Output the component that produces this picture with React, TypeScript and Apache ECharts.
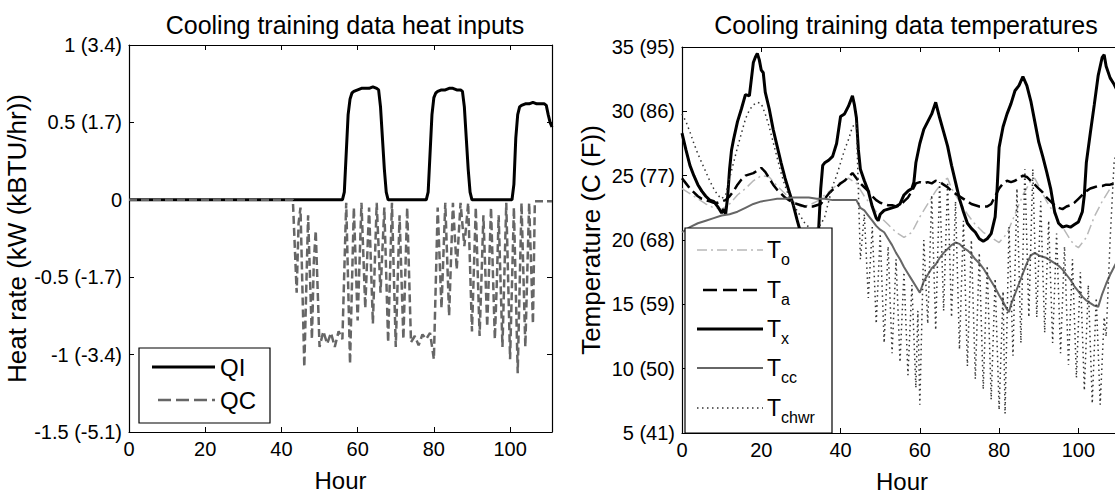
import React, { useEffect, useRef } from "react";
import * as echarts from "echarts";

const FONT = "'Liberation Sans', Arial, Helvetica, sans-serif";

// ---------- axes / ticks ----------
const HOUR_MAX = 111;
const X_TICKS = [0, 20, 40, 60, 80, 100];
const LEFT_Y_TICKS = [-1.5, -1, -0.5, 0, 0.5, 1];
const LEFT_Y_LABELS = ["-1.5 (-5.1)", "-1 (-3.4)", "-0.5 (-1.7)", "0", "0.5 (1.7)", "1 (3.4)"];
const RIGHT_Y_TICKS = [5, 10, 15, 20, 25, 30, 35];
const RIGHT_Y_LABELS = ["5 (41)", "10 (50)", "15 (59)", "20 (68)", "25 (77)", "30 (86)", "35 (95)"];

const LEFT_TITLE = "Cooling training data heat inputs";
const RIGHT_TITLE = "Cooling training data temperatures";
const LEFT_YNAME = "Heat rate (kW (kBTU/hr))";
const RIGHT_YNAME = "Temperature (C (F))";
const XNAME = "Hour";

// ---------- left panel data: [hour, kW] ----------
const QI: [number, number][] = [
  [0, 0], [56, 0], [56.5, 0.05], [57, 0.3], [57.5, 0.55], [58, 0.65], [58.5, 0.69], [59, 0.7], [60, 0.71],
  [61, 0.72], [62, 0.72], [63, 0.72], [64, 0.73], [65, 0.72], [65.5, 0.71], [66, 0.6], [66.5, 0.4], [67, 0.2],
  [67.5, 0.05], [68, 0], [78, 0], [78.5, 0.05], [79, 0.3], [79.5, 0.55], [80, 0.66], [80.5, 0.69], [81, 0.7],
  [82, 0.71], [83, 0.71], [84, 0.72], [85, 0.72], [86, 0.71], [87, 0.71], [87.5, 0.7], [88, 0.6], [88.5, 0.4],
  [89, 0.2], [89.5, 0.05], [90, 0], [100.5, 0], [101, 0.1], [101.5, 0.4], [102, 0.55], [102.5, 0.6], [103, 0.61],
  [104, 0.62], [105, 0.62], [106, 0.63], [107, 0.62], [108, 0.62], [109, 0.62], [109.5, 0.61], [110, 0.55],
  [110.5, 0.5], [111, 0.47],
];

const QC: [number, number][] = [
  [0, 0], [43, 0], [43.5, -0.3], [44, -0.6], [44.5, -0.15], [45, -0.05], [46, -1.08], [47, -0.1], [48, -0.9],
  [48.5, -0.4], [49, -0.2], [50, -0.95], [51, -0.85], [52, -0.93], [53, -0.86], [54, -0.95], [55, -0.85],
  [56, -0.9], [57, -0.02], [58, -1.06], [59, -0.05], [60, -0.78], [61, -0.02], [62, -0.7], [63, -0.05],
  [64, -0.8], [65, -0.02], [66, -0.6], [67, -0.05], [68, -0.92], [69, -0.02], [70, -0.95], [71, -0.1],
  [72, -0.9], [73, -0.05], [74, -0.92], [75, -0.88], [76, -0.94], [77, -0.87], [78, -0.9], [79, -0.86],
  [80, -1.03], [81, -0.05], [82, -0.7], [83, -0.02], [84, -0.75], [85, -0.02], [86, -0.45], [87, -0.02],
  [88, -0.3], [89, -0.02], [90, -0.85], [91, -0.05], [92, -0.88], [92.5, -0.5], [93, -0.1], [94, -0.82],
  [95, -0.05], [96, -0.9], [96.5, -0.55], [97, -0.1], [98, -0.95], [99, -0.02], [100, -1.03], [101, -0.05],
  [102, -1.12], [103, -0.02], [104, -0.95], [105, -0.02], [106, -0.8], [106.5, -0.01], [111, -0.01],
];

// ---------- right panel data: [hour, degC] ----------
const T_O: [number, number][] = [
  [0, 24], [2, 23.6], [4, 23.2], [6, 22.8], [8, 22.5], [10, 22.4], [12, 22.8], [14, 23.5], [16, 24], [18, 24.6],
  [20, 25], [22, 24.9], [24, 24.2], [26, 23.6], [28, 23], [30, 22.6], [32, 22.7], [34, 23], [36, 23.5], [38, 24],
  [40, 24.5], [42, 24.8], [44, 24.4], [46, 23.4], [48, 22.6], [50, 21.8], [52, 21.2], [54, 20.6], [56, 20.2],
  [58, 20.6], [60, 21.8], [62, 22.8], [64, 23.8], [66, 24.6], [67, 24.8], [68, 24], [70, 23], [72, 22], [74, 21.2],
  [76, 20.6], [78, 20.2], [80, 19.8], [82, 20.5], [84, 22], [86, 23.5], [88, 24.6], [89, 24.8], [90, 24.2],
  [92, 23], [94, 22], [96, 21], [98, 20], [99, 19.6], [100, 19.4], [102, 20.2], [104, 21.8], [106, 23], [108, 24],
  [110, 24.8], [111, 25],
];

const T_A: [number, number][] = [
  [0, 24.8], [1, 24.4], [2, 24], [3, 23.7], [4, 23.4], [5, 23.2], [6, 23.1], [7, 23], [8, 22.9], [9, 22.9],
  [10, 23], [11, 23.1], [12, 23.4], [13, 23.8], [14, 24.3], [15, 24.7], [16, 25], [17, 25.1], [18, 25.2],
  [19, 25.4], [20, 25.6], [21, 25.3], [22, 24.8], [23, 24.3], [24, 23.9], [25, 23.6], [26, 23.3], [27, 23.1],
  [28, 22.9], [29, 22.8], [30, 22.7], [31, 22.6], [32, 22.6], [33, 22.6], [34, 22.7], [35, 22.8], [36, 23.2],
  [37, 23.6], [38, 23.9], [39, 24.1], [40, 24.4], [41, 24.6], [42, 24.9], [43, 25.2], [44, 24.8], [45, 24.4],
  [46, 24.1], [47, 23.8], [48, 23.4], [49, 23.1], [50, 22.9], [51, 22.8], [52, 22.7], [53, 22.7], [54, 22.6],
  [55, 22.7], [56, 23], [57, 23.3], [58, 23.8], [59, 24.4], [60, 24.5], [61, 24.4], [62, 24.5], [63, 24.4],
  [64, 24.6], [65, 24.5], [66, 24.3], [67, 24.1], [68, 23.8], [69, 23.6], [70, 23.4], [71, 23.2], [72, 23],
  [73, 22.8], [74, 22.7], [75, 22.6], [76, 22.6], [77, 22.6], [78, 22.8], [79, 23.4], [80, 24], [81, 24.4],
  [82, 24.6], [83, 24.5], [84, 24.6], [85, 24.8], [86, 25], [87, 24.9], [88, 24.6], [89, 24.3], [90, 24],
  [91, 23.7], [92, 23.3], [93, 23], [94, 22.7], [95, 22.5], [96, 22.4], [97, 22.6], [98, 22.7], [99, 22.9],
  [100, 23.2], [101, 23.5], [102, 23.8], [103, 24], [104, 24.1], [105, 24.2], [106, 24.2], [107, 24.3],
  [108, 24.3], [109, 24.4], [110, 24.4], [111, 24.5],
];

const T_X: [number, number][] = [
  [0, 28.3], [1, 27], [2, 25.8], [3, 25], [4, 24.3], [5, 23.8], [6, 23.4], [7, 23.1], [8, 23], [9, 22.6],
  [10, 22.1], [10.5, 22.4], [11, 22], [11.5, 23.3], [12, 25.5], [12.5, 27], [13, 27.8], [14, 29.2], [15, 30.2],
  [16, 31.3], [17, 31.2], [17.5, 32.5], [18, 33.8], [18.5, 34.2], [19, 34.5], [19.5, 34], [20, 33.2], [20.5, 33],
  [21, 31.5], [22, 30.2], [23, 28.6], [24, 27.3], [25, 26], [26, 24.8], [27, 23.8], [28, 22.8], [29, 21.6],
  [30, 20.5], [31, 19.5], [32, 18.8], [33, 18.6], [34, 19.8], [34.5, 21], [35, 24], [35.5, 25.8], [36, 26],
  [37, 26.2], [38, 26.5], [39, 27.5], [40, 29.6], [41, 29.8], [42, 30.4], [43, 31.2], [43.5, 30.5], [44, 29.5],
  [44.5, 27], [45, 25.5], [46, 24.6], [47, 23.8], [48, 22.6], [49, 21.7], [49.5, 21.5], [50, 22], [51, 22.3],
  [52, 22.4], [53, 22.5], [54, 22.6], [55, 22.8], [56, 23.5], [57, 23.8], [58, 24], [58.5, 24.5], [59, 26],
  [60, 27.5], [61, 28.6], [62, 29.2], [63, 29.8], [64, 30.7], [65, 29.5], [66, 28.4], [67, 27.3], [68, 25.8],
  [69, 24.5], [70, 23.2], [71, 22.2], [72, 21.3], [73, 20.9], [74, 20.6], [75, 20.1], [76, 19.9], [77, 20.1],
  [78, 20.5], [79, 21.8], [79.5, 24], [80, 27.2], [81, 28.8], [82, 29.8], [83, 30.6], [84, 31.6], [85, 32],
  [86, 32.7], [87, 32], [88, 30.8], [89, 29.2], [90, 27.6], [91, 26.5], [92, 25.3], [93, 24], [94, 22.2],
  [95, 21.3], [96, 21], [97, 21.1], [98, 21], [99, 21.2], [100, 21.4], [101, 22.2], [101.5, 23.5], [102, 26],
  [103, 28.3], [104, 30.5], [105, 32.8], [106, 34.2], [106.5, 34.4], [107, 33.5], [108, 32.6], [109, 32.1],
  [110, 31.5], [111, 31],
];

const T_CC: [number, number][] = [
  [0, 20.6], [2, 21], [4, 21.3], [6, 21.5], [8, 21.7], [10, 21.9], [12, 22], [14, 22.2], [16, 22.5], [18, 22.8],
  [20, 23], [22, 23.1], [24, 23.2], [26, 23.2], [28, 23.3], [30, 23.3], [32, 23.3], [34, 23.2], [36, 23.2],
  [38, 23.1], [40, 23.1], [42, 23.1], [44, 23.1], [44.5, 22.8], [45, 22.5], [46, 22.3], [47, 21.9], [48, 21.5],
  [49, 21.1], [50, 20.8], [51, 20.6], [52, 20.1], [53, 19.6], [54, 19], [55, 18.5], [56, 17.9], [57, 17.4],
  [58, 16.9], [59, 16.4], [60, 15.9], [61, 16.8], [62, 17.3], [63, 17.8], [64, 18.1], [65, 18.6], [66, 19],
  [67, 19.3], [68, 19.6], [69, 19.8], [70, 19.7], [71, 19.4], [72, 19.2], [73, 18.9], [74, 18.5], [75, 18.2],
  [76, 17.8], [77, 17.3], [78, 16.8], [79, 16.3], [80, 15.7], [81, 15.2], [82, 14.6], [82.5, 14.4], [83, 15],
  [84, 15.8], [85, 16.6], [86, 17.4], [87, 18.2], [88, 18.8], [89, 19], [90, 18.8], [91, 18.7], [92, 18.6],
  [93, 18.4], [94, 18.2], [95, 18], [96, 17.7], [97, 17.3], [98, 16.9], [99, 16.4], [100, 16], [101, 15.6],
  [102, 15.3], [103, 15.1], [104, 14.9], [105, 14.8], [106, 15.8], [107, 16.6], [108, 17.3], [109, 17.9],
  [110, 18.5], [111, 19],
];

const T_CHWR: [number, number][] = [
  [0, 29.8], [1, 29.2], [2, 28.4], [3, 27.5], [4, 26.7], [5, 26], [6, 25.3], [7, 24.6], [8, 24], [9, 23.5],
  [10, 23.2], [11, 23.5], [12, 24.8], [13, 26], [14, 27.2], [15, 28.3], [16, 29.4], [17, 30.1], [18, 30.5],
  [19, 30.7], [20, 30.6], [21, 29.8], [22, 28.8], [23, 27.6], [24, 26.4], [25, 25.2], [26, 24.2], [27, 23.4],
  [28, 22.8], [29, 22.3], [30, 21.8], [31, 21.3], [32, 21], [33, 20.8], [34, 20.9], [35, 21.2], [36, 21.8],
  [37, 23], [38, 24.2], [39, 25], [40, 26], [41, 27], [42, 27.8], [43, 28.8], [44, 29.1],
  [45, 18.5], [46, 22], [47, 15.5], [48, 21], [49, 13.5], [50, 20.5], [51, 12], [52, 19.5], [53, 11.2],
  [54, 18.5], [55, 10.5], [56, 17.5], [57, 9.5], [58, 16.5], [59, 8.5], [59.5, 14.5], [60, 7.2], [61, 20],
  [62, 13.5], [63, 23.5], [64, 13], [65, 24.5], [66, 14.5], [67, 24.5], [68, 14], [69, 23], [70, 11.5],
  [71, 21.5], [72, 10.2], [73, 20], [74, 9.2], [75, 19], [76, 8.4], [77, 18], [78, 7.6], [79, 17], [80, 6.8],
  [81, 16], [81.5, 6.5], [82.5, 21], [83.5, 11], [84.5, 24], [85.5, 12], [86.5, 25.5], [87.5, 14], [88.5, 25.5],
  [89.5, 14], [90.5, 23], [91.5, 12.8], [92.5, 21.5], [93.5, 12], [94.5, 20.5], [95.5, 11.2], [96.5, 19.5],
  [97.5, 10.3], [98.5, 18.5], [99.5, 9.3], [100.5, 17.5], [101.5, 8.3], [102.5, 16.5], [103.5, 7.3],
  [104.5, 15.5], [105.5, 7.2], [106.5, 14], [107, 12.5], [108, 20], [109, 26], [110, 27.5], [111, 28],
];

// ---------- styles ----------
const STYLE_QI = { color: "#000000", width: 3, type: "solid" as any };
const STYLE_QC = { color: "#666666", width: 2.5, type: [8, 4] as any };
const STYLE_TO = { color: "#b8b8b8", width: 1.5, type: [10, 4, 2, 4] as any };
const STYLE_TA = { color: "#000000", width: 2.5, type: [12, 5] as any };
const STYLE_TX = { color: "#000000", width: 3, type: "solid" as any };
const STYLE_TCC = { color: "#666666", width: 2, type: "solid" as any };
const STYLE_TCHWR = { color: "#333333", width: 1.5, type: [1.5, 3.5] as any };

function labelFor(ticks: number[], labels: string[]) {
  return (v: number) => {
    const i = ticks.findIndex((t) => Math.abs(t - v) < 1e-9);
    return i >= 0 ? labels[i] : "";
  };
}

const axisLineStyle = { show: true, onZero: false, lineStyle: { color: "#000", width: 1.2 } };
const tickStyle = { show: true, inside: true, length: 5, lineStyle: { color: "#000", width: 1 } };

function xAxesFor(grid: number) {
  const common = {
    type: "value",
    gridIndex: grid,
    min: 0,
    max: HOUR_MAX,
    interval: 20,
    splitLine: { show: false },
    axisLine: axisLineStyle,
    axisTick: tickStyle,
  };
  return [
    {
      ...common,
      position: "bottom",
      name: XNAME,
      nameLocation: "middle",
      nameGap: 36,
      nameTextStyle: { fontSize: 24, color: "#000", fontFamily: FONT },
      axisLabel: {
        show: true,
        fontSize: 20,
        color: "#000",
        fontFamily: FONT,
        margin: 7,
        formatter: labelFor(X_TICKS, X_TICKS.map(String)),
      },
    },
    { ...common, position: "top", axisLabel: { show: false } },
  ];
}

function yAxesFor(grid: number, min: number, max: number, interval: number, ticks: number[], labels: string[], name: string, nameGap: number) {
  const common = {
    type: "value",
    gridIndex: grid,
    min,
    max,
    interval,
    splitLine: { show: false },
    axisLine: axisLineStyle,
    axisTick: tickStyle,
  };
  return [
    {
      ...common,
      position: "left",
      name,
      nameLocation: "middle",
      nameGap,
      nameTextStyle: { fontSize: 26, color: "#000", fontFamily: FONT },
      axisLabel: {
        show: true,
        fontSize: 20,
        color: "#000",
        fontFamily: FONT,
        margin: 7,
        formatter: labelFor(ticks, labels),
      },
    },
    { ...common, position: "right", axisLabel: { show: false } },
  ];
}

function line(name: string, data: [number, number][], style: any, xi: number, yi: number, z: number) {
  return {
    name,
    type: "line",
    xAxisIndex: xi,
    yAxisIndex: yi,
    data,
    symbol: "none",
    showSymbol: false,
    lineStyle: style,
    z,
    clip: true,
  };
}

function legendRow(x1: number, x2: number, y: number, style: any, main: string, sub: string | null, textX: number, fontSize: number) {
  const dash = Array.isArray(style.type) ? style.type : null;
  const els: any[] = [
    {
      type: "line",
      z: 101,
      shape: { x1, y1: y, x2, y2: y },
      style: { stroke: style.color, lineWidth: style.width, lineDash: dash },
    },
    {
      type: "text",
      z: 101,
      x: textX,
      y,
      style: { text: main, fontSize, fontFamily: FONT, fill: "#000", verticalAlign: "middle", align: "left" },
    },
  ];
  if (sub) {
    els.push({
      type: "text",
      z: 101,
      x: textX + 14,
      y: y + 9,
      style: { text: sub, fontSize: 16, fontFamily: FONT, fill: "#000", verticalAlign: "middle", align: "left" },
    });
  }
  return els;
}

export default function App() {
  const ref = useRef<HTMLDivElement>(null);

  useEffect(() => {
    if (!ref.current) return;
    const chart = echarts.init(ref.current, null, { renderer: "svg" });

    const option: any = {
      animation: false,
      backgroundColor: "#ffffff",
      title: [
        {
          text: LEFT_TITLE,
          left: 340,
          top: 7,
          textAlign: "center",
          textStyle: { fontSize: 25, fontWeight: "normal", color: "#000", fontFamily: FONT },
        },
        {
          text: RIGHT_TITLE,
          left: 901,
          top: 7,
          textAlign: "center",
          textStyle: { fontSize: 25, fontWeight: "normal", color: "#000", fontFamily: FONT },
        },
      ],
      grid: [
        { left: 129, top: 45, width: 423, height: 387, containLabel: false, outerBoundsMode: "none" },
        { left: 682, top: 47, width: 440, height: 386, containLabel: false, outerBoundsMode: "none" },
      ],
      xAxis: [...xAxesFor(0), ...xAxesFor(1)],
      yAxis: [
        ...yAxesFor(0, -1.5, 1, 0.5, LEFT_Y_TICKS, LEFT_Y_LABELS, LEFT_YNAME, 94),
        ...yAxesFor(1, 5, 35, 5, RIGHT_Y_TICKS, RIGHT_Y_LABELS, RIGHT_YNAME, 78),
      ],
      series: [
        line("QI", QI, STYLE_QI, 0, 0, 3),
        line("QC", QC, STYLE_QC, 0, 0, 4),
        line("To", T_O, STYLE_TO, 2, 2, 3),
        line("Ta", T_A, STYLE_TA, 2, 2, 4),
        line("Tx", T_X, STYLE_TX, 2, 2, 5),
        line("Tcc", T_CC, STYLE_TCC, 2, 2, 6),
        line("Tchwr", T_CHWR, STYLE_TCHWR, 2, 2, 7),
      ],
      graphic: [
        {
          type: "rect",
          z: 100,
          shape: { x: 139, y: 348, width: 131, height: 75 },
          style: { fill: "#ffffff", stroke: "#000000", lineWidth: 1.2 },
        },
        ...legendRow(152, 215, 367, STYLE_QI, "QI", null, 220, 24),
        ...legendRow(158, 215, 400, { ...STYLE_QC, type: [13, 5] }, "QC", null, 220, 24),
        {
          type: "rect",
          z: 100,
          shape: { x: 685, y: 228, width: 147, height: 205 },
          style: { fill: "#ffffff", stroke: "#000000", lineWidth: 1.2 },
        },
        ...legendRow(697, 763, 250, STYLE_TO, "T", "o", 767, 23),
        ...legendRow(703, 763, 290, { ...STYLE_TA, type: [14, 6] }, "T", "a", 767, 23),
        ...legendRow(697, 763, 329, STYLE_TX, "T", "x", 767, 23),
        ...legendRow(697, 763, 368, STYLE_TCC, "T", "cc", 767, 23),
        ...legendRow(697, 763, 408, STYLE_TCHWR, "T", "chwr", 767, 23),
      ],
    };

    chart.setOption(option);
    return () => chart.dispose();
  }, []);

  return (
    <div
      ref={ref}
      style={{ position: "absolute", left: 0, top: 0, width: 1115, height: 493, background: "#fff" }}
    />
  );
}
